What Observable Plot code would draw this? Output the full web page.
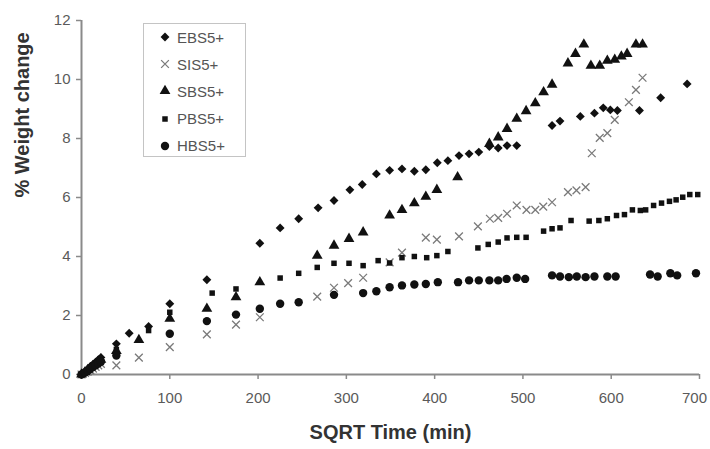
<!DOCTYPE html>
<html><head><meta charset="utf-8">
<script src="https://cdn.jsdelivr.net/npm/d3@7"></script>
<script src="https://cdn.jsdelivr.net/npm/@observablehq/plot@0.6"></script>
<style>
body{margin:0;background:#fff;}
#wrap{position:relative;width:710px;height:449px;}
#legend{position:absolute;left:143px;top:23px;width:103px;height:134px;border:1px solid #c4c4c4;background:#fff;box-sizing:border-box;font-family:"Liberation Sans",Arial,sans-serif;font-size:15px;color:#555;}
.row{position:absolute;left:14px;height:20px;display:flex;align-items:center;}
.row svg{margin-right:5px;}
</style></head>
<body><div id="wrap"><div id="chart"></div><div id="legend"></div></div>
<script>
const seriesNames = ["EBS5+","SIS5+","SBS5+","PBS5+","HBS5+"];
const xTicks = [0,100,200,300,400,500,600,700];
const xLabelTicks = [0,100,200,300,400,500,600];
const xLastTick = [700];
const yTicks = [0,2,4,6,8,10,12];

const ebsX = [0,4,7,10,13,16,19,22,39.5,54,76,100,142,202,225,246,268,286,304,318,334,349,363,377,390,403,415,427.6,439,450,462,472,482,493,533,542,565,581,591,599,607,632,656,686];
const ebsY = [0,0.1,0.18,0.27,0.34,0.42,0.5,0.58,1.04,1.40,1.63,2.40,3.21,4.45,4.97,5.28,5.65,5.90,6.26,6.44,6.80,6.92,6.97,6.89,6.94,7.18,7.25,7.42,7.48,7.54,7.73,7.68,7.76,7.76,8.44,8.59,8.75,8.86,9.04,8.97,8.95,8.95,9.38,9.85];

const sisX = [0,4,7,10,13,16,19,22,39.5,65,100,142,175,202,267,286,302,319,349,363,390,402.5,427.6,449,462.6,472,482,493,504,514,523,533,551,560.6,571,578,587,595.6,604,620,628,635.5];
const sisY = [0,0.05,0.1,0.15,0.2,0.26,0.31,0.36,0.31,0.57,0.93,1.36,1.69,1.94,2.64,2.94,3.10,3.28,3.80,4.13,4.64,4.57,4.68,5.02,5.28,5.31,5.45,5.73,5.58,5.58,5.69,5.84,6.18,6.24,6.35,7.50,8.02,8.18,8.63,9.23,9.65,10.06];

const sbsX = [0,4,7,10,13,16,19,22,39.5,65,100,142,175,202,267,286,303,319,349,363,377,390,402.5,426,462,472,482,493,503.6,514,523.4,533,551,559.5,569,577,587,595.6,604,611.5,618,628,635.5];
const sbsY = [0,0.08,0.15,0.22,0.29,0.36,0.43,0.5,0.8,1.17,1.89,2.23,2.62,3.13,4.03,4.37,4.60,4.82,5.39,5.58,5.81,6.03,6.26,6.69,7.82,8.04,8.33,8.67,8.93,9.20,9.57,9.83,10.55,10.87,11.19,10.47,10.47,10.64,10.67,10.78,10.87,11.19,11.19];

const pbsX = [0,4,7,10,13,16,19,22,39.5,76,100,148,175,225,246,267,286,303,319,336,349,363,377,391,402.5,415,449,460.7,472,482,493,503.6,523.4,533,542,554.5,575,586,595.6,606,615,624,633,639,648,657,666,673.5,681,689,698];
const pbsY = [0,0.08,0.14,0.21,0.28,0.34,0.41,0.47,0.85,1.49,2.11,2.76,2.90,3.27,3.43,3.63,3.77,3.77,3.69,3.86,3.78,3.96,4.00,3.96,4.03,4.17,4.29,4.41,4.49,4.63,4.65,4.65,4.86,4.94,4.97,5.22,5.20,5.22,5.28,5.39,5.42,5.58,5.56,5.58,5.73,5.81,5.87,5.92,6.01,6.10,6.10];

const hbsX = [0,4,7,10,13,16,19,22,39.5,100,142,175,202,225,246,286,319,334,349,363,377,390,403.6,426.5,439,450,462,472,481.5,493,502.5,533,542,552,561,571,581,595.6,605,644,652.6,667,674.7,696];
const hbsY = [0,0.07,0.13,0.19,0.25,0.31,0.37,0.43,0.64,1.38,1.81,2.03,2.23,2.40,2.45,2.70,2.76,2.82,2.96,3.02,3.05,3.07,3.13,3.13,3.19,3.19,3.19,3.19,3.24,3.28,3.24,3.36,3.32,3.30,3.32,3.30,3.32,3.32,3.32,3.39,3.32,3.43,3.36,3.43];

const styles = {
  "EBS5+": {symbol:"diamond2", r:4.0, fill:"#111", stroke:"none"},
  "SIS5+": {symbol:"times", r:3.6, fill:"none", stroke:"#7a7a7a"},
  "SBS5+": {symbol:"triangle", r:4.0, fill:"#111", stroke:"none"},
  "PBS5+": {symbol:"square", r:3.1, fill:"#111", stroke:"none"},
  "HBS5+": {symbol:"circle", r:4.2, fill:"#111", stroke:"none"}
};
const seriesData = {
  "EBS5+": ebsX.map((x,i)=>({x, y:ebsY[i]})),
  "SIS5+": sisX.map((x,i)=>({x, y:sisY[i]})),
  "SBS5+": sbsX.map((x,i)=>({x, y:sbsY[i]})),
  "PBS5+": pbsX.map((x,i)=>({x, y:pbsY[i]})),
  "HBS5+": hbsX.map((x,i)=>({x, y:hbsY[i]}))
};

const dotMarks = seriesNames.map(n => {
  const s = styles[n];
  return Plot.dot(seriesData[n], {x:"x", y:"y", symbol: s.symbol, r: s.r, fill: s.fill, stroke: s.stroke, strokeWidth: 1.3});
});

const labelStyle = {tickSize:0, tickPadding:18, label:null};
const chart = Plot.plot({
  width:710, height:449,
  marginLeft:81, marginRight:11, marginTop:20, marginBottom:75,
  style:{fontFamily:"'Liberation Sans', Arial, sans-serif", fontSize:"15px", color:"#5a5a5a", background:"#fff"},
  x:{domain:[0,700]},
  y:{domain:[0,12]},
  marks:[
    Plot.axisX({ticks:xTicks, tickSize:5, tickFormat:()=>"", stroke:"#8a8a8a", strokeWidth:1.5, label:null}),
    Plot.axisX({ticks:xLabelTicks, ...labelStyle}),
    Plot.axisX({ticks:xLastTick, ...labelStyle, dx:-5}),
    Plot.axisY({ticks:yTicks, tickSize:5, tickPadding:6, stroke:"#8a8a8a", strokeWidth:1.5, label:null}),
    Plot.ruleY([0], {stroke:"#8a8a8a", strokeWidth:2}),
    Plot.ruleX([0], {stroke:"#8a8a8a", strokeWidth:2}),
    ...dotMarks,
    Plot.text(["SQRT Time (min)"], {frameAnchor:"bottom", dy:64, text:d=>d, fontSize:20, fontWeight:"bold", fill:"#333"}),
    Plot.text(["% Weight change"], {frameAnchor:"left", dx:-59, rotate:-90, text:d=>d, fontSize:20, fontWeight:"bold", fill:"#333"})
  ]
});
document.getElementById("chart").appendChild(chart);

const legend = document.getElementById("legend");
const symMap = {diamond2:d3.symbolDiamond2, times:d3.symbolTimes, triangle:d3.symbolTriangle, square:d3.symbolSquare, circle:d3.symbolCircle};
seriesNames.forEach((n,i) => {
  const s = styles[n];
  const row = document.createElement("div");
  row.className = "row";
  row.style.top = (3 + i*27.2) + "px";
  const path = d3.symbol().type(symMap[s.symbol]).size(Math.PI*s.r*s.r)();
  row.innerHTML = `<svg width="14" height="14" viewBox="-7 -7 14 14"><path d="${path}" fill="${s.fill}" stroke="${s.stroke}" stroke-width="1.3"/></svg><span>${n}</span>`;
  legend.appendChild(row);
});
</script></body></html>
